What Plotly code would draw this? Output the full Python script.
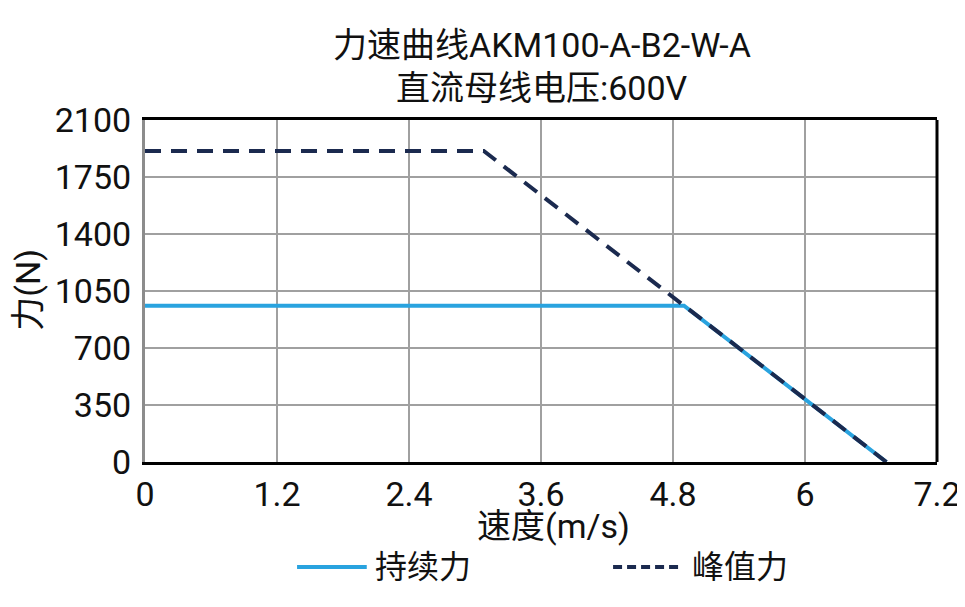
import plotly.graph_objects as go

# force-speed curve, AKM100-A-B2-W-A @ 600V DC bus
speed_cont = [0, 4.9, 6.74]
force_cont = [960, 960, 0]

speed_peak = [0, 3.08, 6.74]
force_peak = [1910, 1910, 0]

x_ticks = [0, 1.2, 2.4, 3.6, 4.8, 6, 7.2]
y_ticks = [0, 350, 700, 1050, 1400, 1750, 2100]

FONT = "Roboto, Noto Sans CJK SC"
BLUE = "#29a3df"
NAVY = "#1b2a4f"
PEAK_DASH = "16px,10px"

fig = go.Figure()
fig.add_trace(go.Scatter(
    x=speed_cont, y=force_cont, mode="lines", name="持续力",
    line=dict(color=BLUE, width=4),
))
fig.add_trace(go.Scatter(
    x=speed_peak, y=force_peak, mode="lines", name="峰值力",
    line=dict(color=NAVY, width=4, dash=PEAK_DASH),
))

# right border black, left one stays grey like the original
fig.add_shape(type="line", xref="paper", yref="paper", x0=1, x1=1, y0=0, y1=1,
              line=dict(color="black", width=3))

# titles as annotations so they sit exactly where the original has them
notes = [
    ("力速曲线AKM100-A-B2-W-A", 0.501, 1.219, 0),
    ("直流母线电压:600V", 0.501, 1.094, 0),
    ("速度(m/s)", 0.516, -0.188, 0),
    ("力(N)", -0.148, 0.503, -90),
]
for txt, x, y, ang in notes:
    fig.add_annotation(text=txt, xref="paper", yref="paper", x=x, y=y,
                       xanchor="center", yanchor="middle", showarrow=False,
                       textangle=ang, font=dict(size=34, color="#111"))

# hand-made legend (longer sample lines than plotly's own legend)
for name, color, dash, x0, x1, xt in [
    ("持续力", BLUE, "solid", 0.192, 0.280, 0.288),
    ("峰值力", NAVY, "9px,5px", 0.591, 0.679, 0.688),
]:
    fig.add_shape(type="line", xref="paper", yref="paper", x0=x0, x1=x1,
                  y0=-0.307, y1=-0.307, line=dict(color=color, width=4, dash=dash))
    fig.add_annotation(text=name, xref="paper", yref="paper", x=xt, y=-0.307,
                       xanchor="left", yanchor="middle", showarrow=False,
                       font=dict(size=32, color="#111"))

# body has an 8px browser margin, so the figure is shrunk by that much
fig.update_layout(
    width=957, height=599,
    font=dict(family=FONT, size=34, color="#111"),
    xaxis=dict(range=[0, 7.2], tickvals=x_ticks, ticktext=[str(v) for v in x_ticks],
               showgrid=True, gridcolor="#a0a0a0", gridwidth=1.5, zeroline=False,
               showline=True, linecolor="black", linewidth=3, mirror=True,
               ticks="", ticklabelstandoff=0),
    yaxis=dict(range=[0, 2100], tickvals=y_ticks,
               showgrid=True, gridcolor="#a0a0a0", gridwidth=1.5, zeroline=False,
               showline=True, linecolor="#8c8c8c", linewidth=3,
               ticks="", ticklabelstandoff=4),
    plot_bgcolor="white", paper_bgcolor="white",
    margin=dict(l=137, r=28, t=112, b=145, autoexpand=False),
    showlegend=False,
)

fig.write_html("out.html")
